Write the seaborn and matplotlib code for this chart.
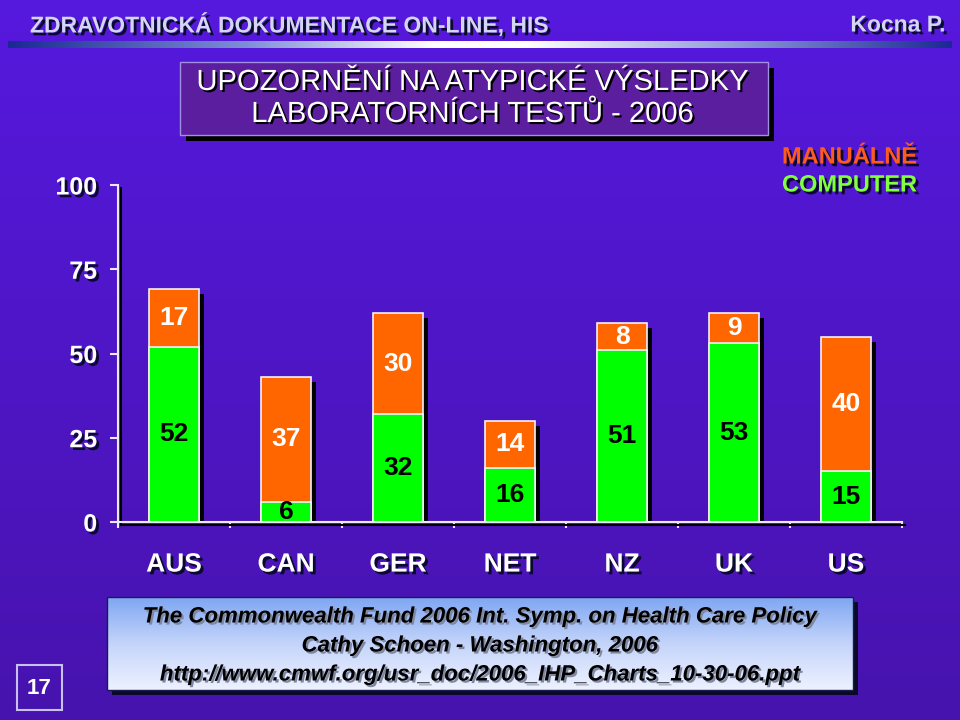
import numpy as np
import pandas as pd
import matplotlib
matplotlib.use("Agg")
import matplotlib.pyplot as plt
import seaborn as sns
import matplotlib.patheffects as pe
from matplotlib.patches import Rectangle
from matplotlib.colors import LinearSegmentedColormap

# ---- data ----
countries = ["AUS", "CAN", "GER", "NET", "NZ", "UK", "US"]
computer = [52, 6, 32, 16, 51, 53, 15]
manual = [17, 37, 30, 14, 8, 9, 40]
yticks = [0, 25, 50, 75, 100]

header_left = "ZDRAVOTNICKÁ DOKUMENTACE ON-LINE, HIS"
header_right = "Kocna P."
title_lines = ["UPOZORNĚNÍ NA ATYPICKÉ VÝSLEDKY", "LABORATORNÍCH TESTŮ - 2006"]
legend_labels = ["MANUÁLNĚ", "COMPUTER"]
source_lines = ["The Commonwealth Fund 2006 Int. Symp. on Health Care Policy",
                "Cathy Schoen - Washington, 2006",
                "http://www.cmwf.org/usr_doc/2006_IHP_Charts_10-30-06.ppt"]
slide_no = "17"

df = pd.DataFrame({"country": countries, "computer": computer, "manual": manual})
df["total"] = df["computer"] + df["manual"]

sns.set_theme(style="white")
plt.rcParams["font.family"] = ["Liberation Sans", "DejaVu Sans"]

W, H = 960, 720
fig = plt.figure(figsize=(9.6, 7.2), dpi=100)

def fx(x):
    return x / W

def fy(y):
    return 1 - y / H

# background
bg = fig.add_axes([0, 0, 1, 1], zorder=-10)
bg.axis("off")
grad = np.linspace(0, 1, 256).reshape(-1, 1)
bg.imshow(grad, aspect="auto", extent=[0, 1, 0, 1], origin="upper", zorder=0,
          cmap=LinearSegmentedColormap.from_list("bg", ["#5619DE", "#4713AE"]))

# header bar gradient
hgrad = np.linspace(0, 1, 512).reshape(1, -1)
hcmap = LinearSegmentedColormap.from_list(
    "hb", [(0, "#1A2A92"), (0.25, "#7E8ED6"), (0.45, "#FFFFFF"), (0.55, "#FFFFFF"),
           (0.78, "#8C96D8"), (1, "#1A2A92")])
bg.imshow(hgrad, aspect="auto", extent=[fx(8), fx(952), fy(48), fy(41)], cmap=hcmap, zorder=1)

shadow_txt = [pe.withSimplePatchShadow(offset=(2, -2), shadow_rgbFace="#0A0A30", alpha=1)]
bg.text(fx(30), fy(25), header_left, color="#D4D4F6", fontsize=16.5, weight="bold",
        va="center", ha="left", path_effects=shadow_txt, zorder=5)
bg.text(fx(945), fy(25), header_right, color="#D4D4F6", fontsize=16.5, weight="bold",
        va="center", ha="right", path_effects=shadow_txt, zorder=5)

# title box
tb = Rectangle((fx(180), fy(135)), fx(768) - fx(180), fy(62) - fy(135),
               facecolor="#5A1E9E", edgecolor="#A090E0", lw=1, zorder=2,
               path_effects=[pe.SimplePatchShadow(offset=(4, -4), shadow_rgbFace="black", alpha=1), pe.Normal()])
bg.add_patch(tb)
for i, line in enumerate(title_lines):
    bg.text(fx(472), fy(82 + 32 * i), line, color="white", fontsize=21,
            ha="center", va="center", zorder=5,
            path_effects=[pe.withSimplePatchShadow(offset=(1.5, -1.5), shadow_rgbFace="black", alpha=1)])

# legend texts
bg.text(fx(782), fy(157), legend_labels[0], color="#FF5A1E", fontsize=17, weight="bold",
        ha="left", va="center", path_effects=shadow_txt, zorder=5)
bg.text(fx(782), fy(185), legend_labels[1], color="#80FF3C", fontsize=17, weight="bold",
        ha="left", va="center", path_effects=shadow_txt, zorder=5)

# source box
bg.add_patch(Rectangle((fx(112), fy(695)), fx(853) - fx(107), fy(597) - fy(690),
                       facecolor="#0A0A28", edgecolor="none", zorder=2))
sgrad = np.linspace(0, 1, 256).reshape(-1, 1)
bg.imshow(sgrad, aspect="auto", extent=[fx(107), fx(853), fy(690), fy(597)], origin="upper",
          zorder=3,
          cmap=LinearSegmentedColormap.from_list("sb", ["#7FA6F2", "#C4D4FA", "#EEF2FF"]))
bg.add_patch(Rectangle((fx(107), fy(690)), fx(853) - fx(107), fy(597) - fy(690),
                       facecolor="none", edgecolor="#1A1A50", lw=1, zorder=4))
for i, line in enumerate(source_lines):
    bg.text(fx(480), fy(617 + 29 * i), line, color="black", fontsize=16, weight="bold",
            style="italic", ha="center", va="center", zorder=5,
            path_effects=[pe.withSimplePatchShadow(offset=(1.5, -1.5), shadow_rgbFace="#8088A0", alpha=1)])

# slide number
bg.add_patch(Rectangle((fx(17), fy(710)), fx(62) - fx(17), fy(665) - fy(710),
                       facecolor="none", edgecolor="#C8C0F0", lw=1.5, zorder=4))
bg.text(fx(39.5), fy(688), slide_no, color="white", fontsize=16, weight="bold",
        ha="center", va="center", zorder=5)

bg.set_xlim(0, 1)
bg.set_ylim(0, 1)

# main chart
ax = fig.add_axes([fx(118), fy(522), fx(902) - fx(118), fy(185) - fy(522)])
ax.set_facecolor("none")
sns.barplot(data=df, x="country", y="total", color="#FF6600", saturation=1, width=0.44,
            edgecolor="#F4F0FF", linewidth=1.2, ax=ax)
for p in ax.patches:
    p.set_path_effects([pe.SimplePatchShadow(offset=(3.5, -3.5), shadow_rgbFace="black", alpha=1), pe.Normal()])
sns.barplot(data=df, x="country", y="computer", color="#00FF00", saturation=1, width=0.44,
            edgecolor="#F4F0FF", linewidth=1.2, ax=ax)

for i, (c, m) in enumerate(zip(computer, manual)):
    ax.text(i, c / 2, str(c), ha="center", va="center", color="black", fontsize=19, weight="bold")
    ax.text(i, c + m / 2, str(m), ha="center", va="center", color="white", fontsize=19, weight="bold")

ax.set_xlim(-0.5, 6.5)
ax.set_ylim(0, 100)
ax.set_yticks(yticks)
ax.set_xlabel("")
ax.set_ylabel("")
for s in ["top", "right"]:
    ax.spines[s].set_visible(False)
for s in ["left", "bottom"]:
    ax.spines[s].set_color("#ECE8FF")
    ax.spines[s].set_linewidth(1.5)
    ax.spines[s].set_path_effects([pe.SimpleLineShadow(offset=(2, -2), shadow_color="black", alpha=1), pe.Normal()])

ax.tick_params(axis="y", which="major", direction="out", length=6, width=1.5, color="#ECE8FF",
               labelcolor="white", labelsize=18, pad=9, left=True)
ax.tick_params(axis="x", which="major", length=0, labelcolor="white", labelsize=19, pad=22)
ax.set_xticks(np.arange(-0.5, 7, 1.0), minor=True)
ax.tick_params(axis="x", which="minor", direction="out", length=4, width=1.5, color="#ECE8FF", bottom=True)
for lab in ax.get_yticklabels() + ax.get_xticklabels():
    lab.set_fontweight("bold")
    lab.set_path_effects(shadow_txt)

fig.savefig("out.png", dpi=100)
